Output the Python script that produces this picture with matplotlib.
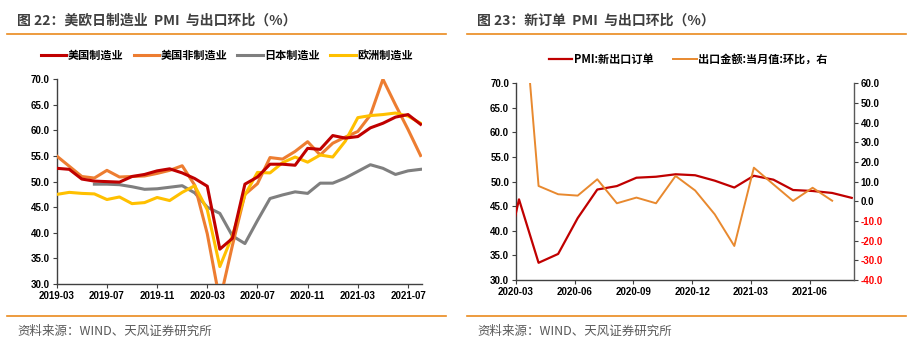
import numpy as np
import matplotlib
matplotlib.use("Agg")
import matplotlib.pyplot as plt
from matplotlib.lines import Line2D

plt.rcParams['font.family'] = ['Noto Sans CJK SC', 'DejaVu Sans']

# ---- 图22 数据（2019-03 ~ 2021-08）----
left_labels = ['2019-03', '2019-07', '2019-11', '2020-03', '2020-07', '2020-11', '2021-03', '2021-07']
us_mfg = [52.6, 52.4, 50.5, 50.1, 50.0, 49.9, 51.0, 51.4, 52.1, 52.5, 51.7, 50.6, 49.1, 36.8, 38.9,
          49.5, 50.9, 53.4, 53.4, 53.2, 56.5, 56.3, 59.0, 58.5, 58.8, 60.5, 61.4, 62.6, 63.1, 61.2]
us_svc = [55.0, 53.0, 51.0, 50.7, 52.2, 50.9, 51.0, 51.1, 51.6, 52.2, 53.1, 49.3, 39.8, 26.7, 37.5,
          47.5, 49.6, 54.7, 54.4, 55.9, 57.8, 55.2, 57.5, 58.7, 59.8, 63.0, 70.0, 65.0, 60.2, 55.1]
japan = [np.nan, np.nan, np.nan, 49.5, 49.5, 49.4, 49.0, 48.5, 48.6, 48.9, 49.2, 47.8, 45.0, 43.8, 39.4,
         37.9, 42.4, 46.7, 47.4, 48.0, 47.7, 49.7, 49.7, 50.7, 52.0, 53.3, 52.6, 51.4, 52.1, 52.4]
euro = [47.5, 47.9, 47.7, 47.6, 46.5, 47.0, 45.7, 45.9, 46.9, 46.3, 47.9, 49.2, 44.5, 33.4, 39.4,
        47.4, 51.8, 51.7, 53.7, 54.8, 53.8, 55.2, 54.8, 57.9, 62.5, 62.9, 63.1, 63.4, 62.8, 61.4]

# ---- 图23 数据 ----
right_labels = ['2020-03', '2020-06', '2020-09', '2020-12', '2021-03', '2021-06']
# PMI:新出口订单 2020-02 ~ 2021-08
pmi_export = [28.7, 46.4, 33.5, 35.3, 42.6, 48.4, 49.1, 50.8, 51.0, 51.5, 51.3, 50.2, 48.8, 51.2,
              50.4, 48.3, 48.1, 47.7, 46.7]
# 出口金额:当月值:环比 2020-03 ~ 2021-07
export_mom = [128.0, 7.8, 3.6, 2.9, 11.2, -1.0, 1.9, -1.0, 12.9, 5.5, -6.6, -22.7, 17.1, 8.6,
              0.2, 6.9, 0.3]

RED = '#C00000'
ORANGE = '#ED7D31'
GREY = '#7F7F7F'
YELLOW = '#FFC000'
LINE_ORANGE = '#E8892F'
TITLE_C = '#3F3F3F'

fig = plt.figure(figsize=(9.15, 3.5), dpi=100)

tick_font = dict(family='Liberation Sans', weight='bold', size=7)


def style_axis(ax):
    ax.spines['top'].set_visible(False)
    ax.spines['right'].set_visible(False)
    for s in ['left', 'bottom']:
        ax.spines[s].set_color('#404040')
        ax.spines[s].set_linewidth(1.0)
    ax.tick_params(direction='out', length=3, width=0.8, color='#404040', pad=2)
    for lab in ax.get_xticklabels() + ax.get_yticklabels():
        lab.set_fontfamily('Liberation Sans')
        lab.set_fontweight('bold')
        lab.set_fontsize(7)


# ---------------- 左图 ----------------
ax1 = fig.add_axes([0.062, 0.1886, 0.399, 0.585])
x1 = np.arange(len(us_mfg))
ax1.plot(x1, us_mfg, color=RED, lw=2.2, label='美国制造业', zorder=5)
ax1.plot(x1, us_svc, color=ORANGE, lw=2.2, label='美国非制造业', zorder=3)
ax1.plot(x1, japan, color=GREY, lw=2.2, label='日本制造业', zorder=2)
ax1.plot(x1, euro, color=YELLOW, lw=2.2, label='欧洲制造业', zorder=4)
ax1.set_ylim(30, 70)
ax1.set_xlim(0, 29.1)
ax1.set_yticks(np.arange(30, 70.1, 5))
ax1.set_yticklabels([f'{v:.1f}' for v in np.arange(30, 70.1, 5)])
ax1.set_xticks(np.arange(0, 29, 4))
ax1.set_xticklabels(left_labels)
style_axis(ax1)
ax1.legend(loc='center', bbox_to_anchor=(0.248, 0.843), bbox_transform=fig.transFigure,
           ncol=4, frameon=False, handlelength=2.3, handletextpad=0.15, columnspacing=0.9,
           prop=dict(family='Noto Sans CJK SC', weight='bold', size=8))

# ---------------- 右图 ----------------
ax2 = fig.add_axes([0.564, 0.2, 0.369, 0.562])
x_pmi = np.arange(len(pmi_export)) - 1
x_exp = np.arange(len(export_mom))
ax2.plot(x_pmi, pmi_export, color=RED, lw=1.6, label='PMI:新出口订单', zorder=4)
ax2.set_ylim(30, 70)
ax2.set_xlim(-0.15, 17.1)
ax2.set_yticks(np.arange(30, 70.1, 5))
ax2.set_yticklabels([f'{v:.1f}' for v in np.arange(30, 70.1, 5)])
ax2.set_xticks(np.arange(0, 16, 3) - 0.15)
ax2.set_xticklabels(right_labels)
style_axis(ax2)

ax3 = ax2.twinx()
ax3.plot(x_exp, export_mom, color=LINE_ORANGE, lw=1.4, label='出口金额:当月值:环比，右', zorder=3)
ax3.set_ylim(-40, 60)
ax3.set_yticks(np.arange(-40, 60.1, 10))
ax3.set_yticklabels([f'{v:.1f}' for v in np.arange(-40, 60.1, 10)])
ax3.spines['top'].set_visible(False)
ax3.spines['left'].set_visible(False)
ax3.spines['bottom'].set_visible(False)
ax3.spines['right'].set_color('#595959')
ax3.spines['right'].set_linewidth(1.0)
ax3.tick_params(direction='out', length=3, width=0.8, color='#404040', pad=2)
for lab, v in zip(ax3.get_yticklabels(), np.arange(-40, 60.1, 10)):
    lab.set_fontfamily('Liberation Sans')
    lab.set_fontweight('bold')
    lab.set_fontsize(7)
    if v < 0:
        lab.set_color('#FF0000')

h1, l1 = ax2.get_legend_handles_labels()
h2, l2 = ax3.get_legend_handles_labels()
ax3.legend(h1 + h2, l1 + l2, loc='center', bbox_to_anchor=(0.752, 0.83),
           bbox_transform=fig.transFigure, ncol=2, frameon=False, handlelength=2.1,
           handletextpad=0.15, columnspacing=1.8,
           prop=dict(family='Noto Sans CJK SC', weight='bold', size=8))

# ---------------- 标题、分隔线、来源 ----------------
fig.text(17 / 915, 1 - 21 / 350, '图 22：美欧日制造业  PMI  与出口环比（%）', fontsize=10,
         fontweight='bold', color=TITLE_C, va='center', ha='left')
fig.text(477 / 915, 1 - 21 / 350, '图 23：新订单  PMI  与出口环比（%）', fontsize=10,
         fontweight='bold', color=TITLE_C, va='center', ha='left')

sep_c = '#EA8A1E'
for (xa, xb) in [(7, 446), (467, 906)]:
    fig.add_artist(Line2D([xa / 915, xb / 915], [1 - 34 / 350] * 2, color=sep_c, lw=1.2))
    fig.add_artist(Line2D([xa / 915, xb / 915], [1 - 316 / 350] * 2, color=sep_c, lw=1.2))

fig.text(17 / 915, 1 - 331 / 350, '资料来源：WIND、天风证券研究所', fontsize=9,
         color='#595959', va='center', ha='left')
fig.text(477 / 915, 1 - 331 / 350, '资料来源：WIND、天风证券研究所', fontsize=9,
         color='#595959', va='center', ha='left')

fig.savefig('out.png', dpi=100)
